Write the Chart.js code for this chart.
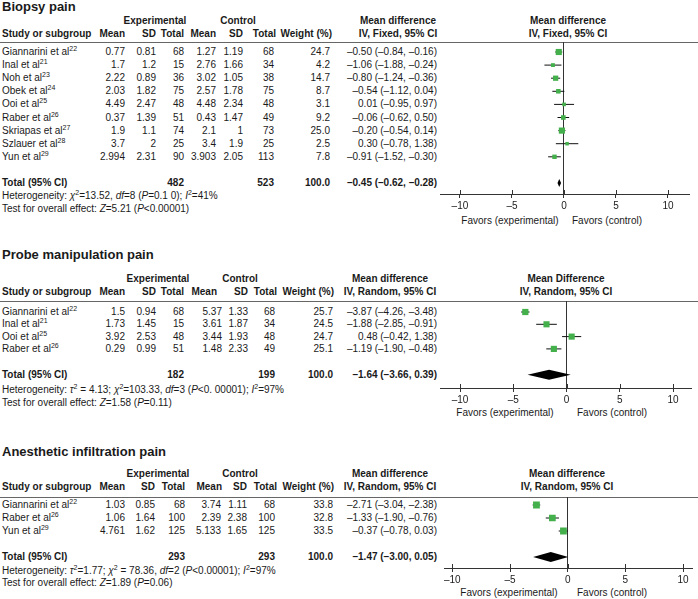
<!DOCTYPE html>
<html>
<head>
<meta charset="utf-8">
<script src="https://cdn.jsdelivr.net/npm/chart.js@4.4.0/dist/chart.umd.min.js"></script>
<style>
body { margin: 0; background: #fff; }
#page { position: relative; width: 698px; height: 599px; overflow: hidden;
        font-family: "Liberation Sans", Arial, sans-serif; font-size: 10px; color: #1a1a1a; }
.t { position: absolute; line-height: 12px; white-space: nowrap; }
.b { font-weight: bold; }
.h { font-weight: bold; font-size: 13px; line-height: 16px; }
.rule { position: absolute; left: 0; width: 698px; height: 0; border-top: 1px solid #666; }
sup { font-size: 7px; line-height: 0; vertical-align: 4px; }
canvas { position: absolute; }
</style>
</head>
<body>
<div id="page"></div>
<script>
var xTicks = [-10, -5, 0, 5, 10];

// Biopsy pain
var studies1 = ['Giannarini et al', 'Inal et al', 'Noh et al', 'Obek et al', 'Ooi et al', 'Raber et al', 'Skriapas et al', 'Szlauer et al', 'Yun et al'];
var refs1 = [22, 21, 23, 24, 25, 26, 27, 28, 29];
var expMean1 = [0.77, 1.7, 2.22, 2.03, 4.49, 0.37, 1.9, 3.7, 2.994];
var expSD1 = [0.81, 1.2, 0.89, 1.82, 2.47, 1.39, 1.1, 2, 2.31];
var expN1 = [68, 15, 36, 75, 48, 51, 74, 25, 90];
var ctlMean1 = [1.27, 2.76, 3.02, 2.57, 4.48, 0.43, 2.1, 3.4, 3.903];
var ctlSD1 = [1.19, 1.66, 1.05, 1.78, 2.34, 1.47, 1, 1.9, 2.05];
var ctlN1 = [68, 34, 38, 75, 48, 49, 73, 25, 113];
var weight1 = [24.7, 4.2, 14.7, 8.7, 3.1, 9.2, 25.0, 2.5, 7.8];
var md1 = [-0.50, -1.06, -0.80, -0.54, 0.01, -0.06, -0.20, 0.30, -0.91];
var lo1 = [-0.84, -1.88, -1.24, -1.12, -0.95, -0.62, -0.54, -0.78, -1.52];
var hi1 = [-0.16, -0.24, -0.36, 0.04, 0.97, 0.50, 0.14, 1.38, -0.30];
var totals1 = [482, 523];
var pooled1 = [-0.45, -0.62, -0.28];
var het1 = 'Heterogeneity: <i>χ</i><sup>2</sup>=13.52, <i>df</i>=8 (<i>P</i>=0.1 0); <i>I</i><sup>2</sup>=41%';
var test1 = 'Test for overall effect: <i>Z</i>=5.21 (<i>P</i>&lt;0.00001)';

// Probe manipulation pain
var studies2 = ['Giannarini et al', 'Inal et al', 'Ooi et al', 'Raber et al'];
var refs2 = [22, 21, 25, 26];
var expMean2 = [1.5, 1.73, 3.92, 0.29];
var expSD2 = [0.94, 1.45, 2.53, 0.99];
var expN2 = [68, 15, 48, 51];
var ctlMean2 = [5.37, 3.61, 3.44, 1.48];
var ctlSD2 = [1.33, 1.87, 1.93, 2.33];
var ctlN2 = [68, 34, 48, 49];
var weight2 = [25.7, 24.5, 24.7, 25.1];
var md2 = [-3.87, -1.88, 0.48, -1.19];
var lo2 = [-4.26, -2.85, -0.42, -1.90];
var hi2 = [-3.48, -0.91, 1.38, -0.48];
var totals2 = [182, 199];
var pooled2 = [-1.64, -3.66, 0.39];
var het2 = 'Heterogeneity: <i>τ</i><sup>2</sup> = 4.13; <i>χ</i><sup>2</sup>=103.33, <i>df</i>=3 (<i>P</i>&lt;0. 00001); <i>I</i><sup>2</sup>=97%';
var test2 = 'Test for overall effect: <i>Z</i>=1.58 (<i>P</i>=0.11)';

// Anesthetic infiltration pain
var studies3 = ['Giannarini et al', 'Raber et al', 'Yun et al'];
var refs3 = [22, 26, 29];
var expMean3 = [1.03, 1.06, 4.761];
var expSD3 = [0.85, 1.64, 1.62];
var expN3 = [68, 100, 125];
var ctlMean3 = [3.74, 2.39, 5.133];
var ctlSD3 = [1.11, 2.38, 1.65];
var ctlN3 = [68, 100, 125];
var weight3 = [33.8, 32.8, 33.5];
var md3 = [-2.71, -1.33, -0.37];
var lo3 = [-3.04, -1.90, -0.78];
var hi3 = [-2.38, -0.76, 0.03];
var totals3 = [293, 293];
var pooled3 = [-1.47, -3.00, 0.05];
var het3 = 'Heterogeneity: <i>τ</i><sup>2</sup>=1.77; <i>χ</i><sup>2</sup> = 78.36, <i>df</i>=2 (<i>P</i>&lt;0.00001); <i>I</i><sup>2</sup>=97%';
var test3 = 'Test for overall effect: <i>Z</i>=1.89 (<i>P</i>=0.06)';

var panels = [
  { title: 'Biopsy pain', method: 'IV, Fixed, 95% CI', plotHead: 'Mean difference',
    studies: studies1, refs: refs1, cols: [expMean1, expSD1, expN1, ctlMean1, ctlSD1, ctlN1],
    weight: weight1, md: md1, lo: lo1, hi: hi1, totals: totals1, pooled: pooled1, het: het1, test: test1,
    lay: { title: 7, group: 21, head: 34, rule: 42, row0: 52, step: 13.1, totalIdx: 10, het: 196, test: 209,
           axis: 194, favors: 221, left: 440, right: 690, xMin: -11.92, xMax: 12.12, half: 4,
           cx: [125, 156, 184, 216, 243, 274, 330], hx: [125, 156, 184, 216, 243, 276, 332],
           exp: 155, ctl: 238, mdCol: 437, mdHead: 398, plotHead: 568, favExp: 510, favCtl: 607 } },
  { title: 'Probe manipulation pain', method: 'IV, Random, 95% CI', plotHead: 'Mean Difference',
    studies: studies2, refs: refs2, cols: [expMean2, expSD2, expN2, ctlMean2, ctlSD2, ctlN2],
    weight: weight2, md: md2, lo: lo2, hi: hi2, totals: totals2, pooled: pooled2, het: het2, test: test2,
    lay: { title: 255, group: 279, head: 292, rule: 301, row0: 312, step: 12.3, totalIdx: 5.1, het: 390, test: 403,
           axis: 388, favors: 413, left: 440, right: 692, xMin: -11.88, xMax: 11.78, half: 5,
           cx: [125, 156, 184, 222, 248, 275, 333], hx: [125, 156, 184, 217, 248, 277, 334],
           exp: 158, ctl: 240, mdCol: 437, mdHead: 390, plotHead: 566, favExp: 505, favCtl: 612 } },
  { title: 'Anesthetic infiltration pain', method: 'IV, Random, 95% CI', plotHead: 'Mean difference',
    studies: studies3, refs: refs3, cols: [expMean3, expSD3, expN3, ctlMean3, ctlSD3, ctlN3],
    weight: weight3, md: md3, lo: lo3, hi: hi3, totals: totals3, pooled: pooled3, het: het3, test: test3,
    lay: { title: 452, group: 474, head: 487, rule: 497, row0: 505, step: 13, totalIdx: 4, het: 571, test: 583,
           axis: 568, favors: 593, left: 442, right: 693, xMin: -10.69, xMax: 10.86, half: 5,
           cx: [125, 155, 185, 221, 247, 275, 333], hx: [125, 155, 185, 222, 247, 277, 334],
           exp: 158, ctl: 240, mdCol: 437, mdHead: 390, plotHead: 567, favExp: 509, favCtl: 612 } }
];

var page = document.getElementById('page');

function put(x, y, html, align, cls) {
  var d = document.createElement('div');
  d.className = 't' + (cls ? ' ' + cls : '');
  d.innerHTML = html;
  var w = 300;
  if (align === 'r') {
    d.style.left = (x - w) + 'px'; d.style.width = w + 'px'; d.style.textAlign = 'right';
  } else if (align === 'c') {
    d.style.left = (x - w / 2) + 'px'; d.style.width = w + 'px'; d.style.textAlign = 'center';
  } else {
    d.style.left = x + 'px';
  }
  d.style.top = (y - (cls === 'h' ? 8 : 6)) + 'px';
  page.appendChild(d);
}

function neg(v) {
  return (v < 0 ? '–' : '') + Math.abs(v).toFixed(2);
}

var forestPlugin = {
  id: 'forest',
  afterDatasetsDraw: function (chart, args, opts) {
    var x = chart.scales.x, y = chart.scales.y, ctx = chart.ctx;
    var yc = y.getPixelForValue(opts.row);
    ctx.save();
    // pooled diamond
    ctx.fillStyle = '#000';
    ctx.beginPath();
    ctx.moveTo(x.getPixelForValue(opts.pooled[1]), yc);
    ctx.lineTo(x.getPixelForValue(opts.pooled[0]), yc - opts.half);
    ctx.lineTo(x.getPixelForValue(opts.pooled[2]), yc);
    ctx.lineTo(x.getPixelForValue(opts.pooled[0]), yc + opts.half);
    ctx.closePath();
    ctx.fill();
    // upper half of the axis ticks
    ctx.strokeStyle = '#333';
    ctx.lineWidth = 1;
    x.ticks.forEach(function (t) {
      var px = Math.round(x.getPixelForValue(t.value)) + 0.5;
      ctx.beginPath();
      ctx.moveTo(px, chart.chartArea.bottom - 4);
      ctx.lineTo(px, chart.chartArea.bottom);
      ctx.stroke();
    });
    ctx.restore();
  }
};

panels.forEach(function (p) {
  var L = p.lay;
  var n = p.studies.length;
  var totalY = L.row0 + L.totalIdx * L.step;

  // table text
  put(2, L.title, p.title, 'l', 'h');
  put(L.exp, L.group, 'Experimental', 'c', 'b');
  put(L.ctl, L.group, 'Control', 'c', 'b');
  put(2, L.head, 'Study or subgroup', 'l', 'b');
  ['Mean', 'SD', 'Total', 'Mean', 'SD', 'Total', 'Weight (%)'].forEach(function (h, j) {
    put(L.hx[j], L.head, h, 'r', 'b');
  });
  put(L.mdHead, L.group, 'Mean difference', 'c', 'b');
  put(L.mdHead, L.head, p.method, 'c', 'b');
  put(L.plotHead, L.group, p.plotHead, 'c', 'b');
  put(L.plotHead, L.head, p.method, 'c', 'b');

  var rule = document.createElement('div');
  rule.className = 'rule';
  rule.style.top = L.rule + 'px';
  page.appendChild(rule);

  for (var i = 0; i < n; i++) {
    var ry = L.row0 + i * L.step;
    put(2, ry, p.studies[i] + '<sup>' + p.refs[i] + '</sup>', 'l');
    p.cols.forEach(function (c, j) { put(L.cx[j], ry, String(c[i]), 'r'); });
    put(L.cx[6], ry, p.weight[i].toFixed(1), 'r');
    put(L.mdCol, ry, neg(p.md[i]) + ' (' + neg(p.lo[i]) + ', ' + neg(p.hi[i]) + ')', 'r');
  }

  put(2, totalY, 'Total (95% CI)', 'l', 'b');
  put(L.cx[2], totalY, String(p.totals[0]), 'r', 'b');
  put(L.cx[5], totalY, String(p.totals[1]), 'r', 'b');
  put(L.cx[6], totalY, p.weight.reduce(function (a, b) { return a + b; }, 0) > 0 ? '100.0' : '', 'r', 'b');
  put(L.mdCol, totalY, neg(p.pooled[0]) + ' (' + neg(p.pooled[1]) + ', ' + neg(p.pooled[2]) + ')', 'r', 'b');
  put(2, L.het, p.het, 'l');
  put(2, L.test, p.test, 'l');
  put(L.favExp, L.favors, 'Favors (experimental)', 'c');
  put(L.favCtl, L.favors, 'Favors (control)', 'c');

  // forest plot
  var cv = document.createElement('canvas');
  cv.width = L.right - L.left;
  cv.height = L.axis - L.rule + 20;
  cv.style.left = L.left + 'px';
  cv.style.top = L.rule + 'px';
  page.appendChild(cv);

  var datasets = [{
    data: p.md.map(function (v, i) { return { x: v, y: i }; }),
    pointStyle: 'rect',
    pointRadius: p.weight.map(function (w) { return 1.6 + Math.sqrt(w) * 0.55; }),
    backgroundColor: '#43b04b',
    borderWidth: 0,
    showLine: false
  }];
  for (var k = 0; k < n; k++) {
    datasets.push({
      data: [{ x: p.lo[k], y: k }, { x: p.hi[k], y: k }],
      showLine: true,
      borderColor: '#111',
      borderWidth: 1,
      pointRadius: 0
    });
  }

  new Chart(cv, {
    type: 'scatter',
    data: { datasets: datasets },
    plugins: [forestPlugin],
    options: {
      responsive: false,
      animation: false,
      layout: { autoPadding: false, padding: 0 },
      plugins: {
        legend: { display: false },
        tooltip: { enabled: false },
        forest: { pooled: p.pooled, row: L.totalIdx, half: L.half }
      },
      scales: {
        x: {
          type: 'linear',
          min: L.xMin,
          max: L.xMax,
          afterBuildTicks: function (s) { s.ticks = xTicks.map(function (v) { return { value: v }; }); },
          afterFit: function (s) { s.height = 20; },
          ticks: {
            autoSkip: false,
            maxRotation: 0,
            padding: 2,
            color: '#1a1a1a',
            font: { family: '"Liberation Sans", Arial, sans-serif', size: 10 },
            callback: function (v) { return v < 0 ? '–' + Math.abs(v) : String(v); }
          },
          grid: {
            color: function (c) { return c.tick && c.tick.value === 0 ? '#333' : 'rgba(0,0,0,0)'; },
            tickColor: '#333',
            tickLength: 4,
            lineWidth: 1
          },
          border: { color: '#333', width: 1 }
        },
        y: {
          type: 'linear',
          display: false,
          reverse: true,
          min: (L.rule - L.row0) / L.step,
          max: (L.axis - L.row0) / L.step
        }
      }
    }
  });
});
</script>
</body>
</html>
